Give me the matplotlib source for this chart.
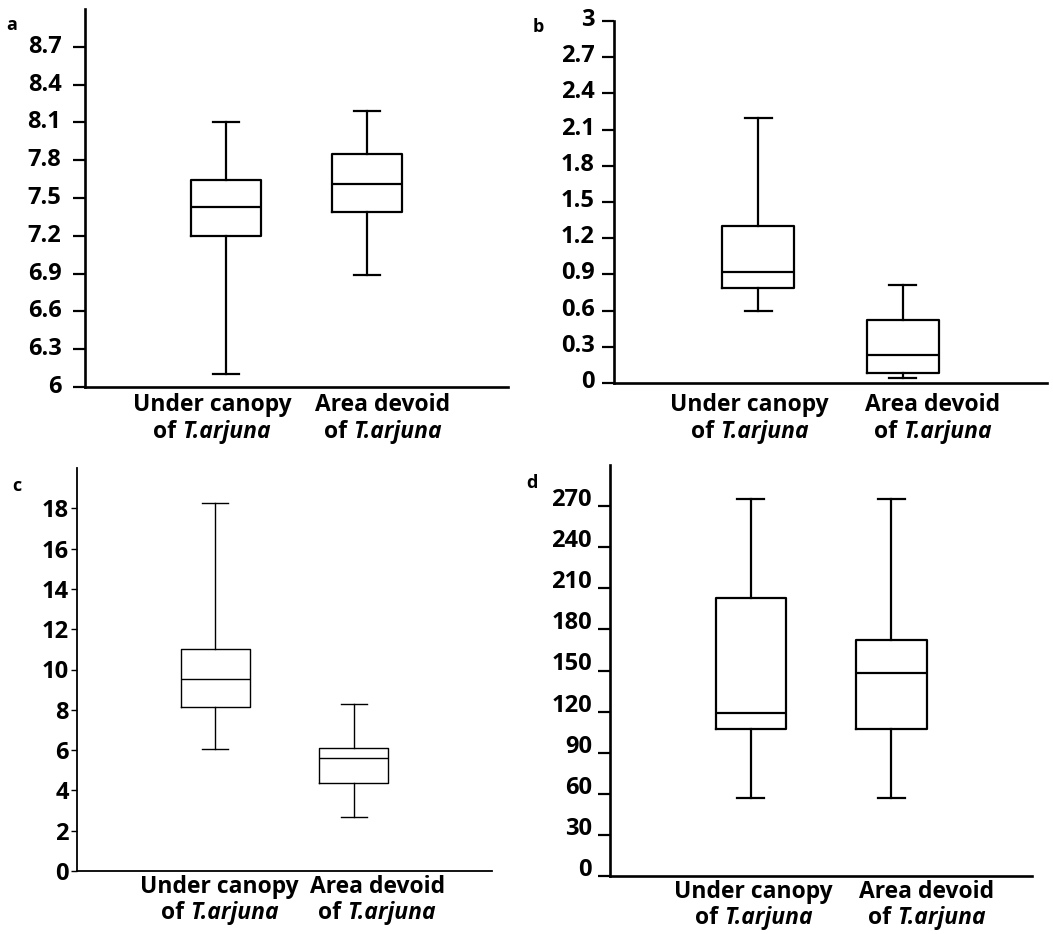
import matplotlib
matplotlib.use("Agg")
import matplotlib.pyplot as plt
import matplotlib.transforms as mtransforms

FONT = 'Open Sans'
plt.rcParams['font.family'] = [FONT, 'DejaVu Sans']
plt.rcParams['font.weight'] = 'bold'

cat_line1 = ["Under canopy", "Area devoid"]
cat_of = "of "
cat_species = "T.arjuna"

# five-number summaries per panel: (whislo, q1, med, q3, whishi)
a_under = (6.10, 7.20, 7.43, 7.64, 8.10)
a_devoid = (6.89, 7.39, 7.61, 7.85, 8.19)
b_under = (0.60, 0.79, 0.92, 1.305, 2.20)
b_devoid = (0.045, 0.08, 0.23, 0.52, 0.81)
c_under = (6.05, 8.13, 9.55, 11.0, 18.25)
c_devoid = (2.68, 4.36, 5.60, 6.10, 8.28)
d_under = (57, 107.5, 119, 203, 275)
d_devoid = (57, 107.5, 148, 172.6, 275)

a_ticks = [6, 6.3, 6.6, 6.9, 7.2, 7.5, 7.8, 8.1, 8.4, 8.7]
a_ticklabels = ["6", "6.3", "6.6", "6.9", "7.2", "7.5", "7.8", "8.1", "8.4", "8.7"]
b_ticks = [0, 0.3, 0.6, 0.9, 1.2, 1.5, 1.8, 2.1, 2.4, 2.7, 3]
b_ticklabels = ["0", "0.3", "0.6", "0.9", "1.2", "1.5", "1.8", "2.1", "2.4", "2.7", "3"]
c_ticks = [0, 2, 4, 6, 8, 10, 12, 14, 16, 18]
c_ticklabels = ["0", "2", "4", "6", "8", "10", "12", "14", "16", "18"]
d_ticks = [0, 30, 60, 90, 120, 150, 180, 210, 240, 270]
d_ticklabels = ["0", "30", "60", "90", "120", "150", "180", "210", "240", "270"]

W, H = 1053, 934
fig = plt.figure(figsize=(W / 100, H / 100), dpi=100)
renderer = fig.canvas.get_renderer()


def make_axes(left, top, right, bottom):
    return fig.add_axes([left / W, 1 - bottom / H, (right - left) / W, (bottom - top) / H])


panels = [
    dict(letter="a", box=(85, 9, 508, 387), ylim=(6, 9.0), data=(a_under, a_devoid),
         ticks=a_ticks, labels=a_ticklabels, lw=1.6, ticklen=9, pad=8, yoff=3,
         letter_xy=(12, 25), label_x=(0.90, 2.11), l1=18, l2=45),
    dict(letter="b", box=(614, 21, 1047, 383), ylim=(0, 3.0), data=(b_under, b_devoid),
         ticks=b_ticks, labels=b_ticklabels, lw=1.6, ticklen=9, pad=5, yoff=4,
         letter_xy=(538, 27), label_x=(0.94, 2.21), l1=22, l2=49),
    dict(letter="c", box=(77, 468, 492, 871), ylim=(0, 20), data=(c_under, c_devoid),
         ticks=c_ticks, labels=c_ticklabels, lw=1.0, ticklen=4, pad=2, yoff=0,
         letter_xy=(17, 486), label_x=(1.03, 2.17), l1=16, l2=42),
    dict(letter="d", box=(610, 465, 1032, 876), ylim=(0, 300), data=(d_under, d_devoid),
         ticks=d_ticks, labels=d_ticklabels, lw=1.6, ticklen=9, pad=4, yoff=9,
         letter_xy=(532, 483), label_x=(1.02, 2.25), l1=16, l2=42),
]

LABEL_FS = 16.5

for p in panels:
    ax = make_axes(*p["box"])
    stats = []
    for s in p["data"]:
        stats.append(dict(whislo=s[0], q1=s[1], med=s[2], q3=s[3], whishi=s[4], fliers=[]))
    lw = p["lw"]
    ax.bxp(stats, positions=[1, 2], widths=0.5, capwidths=0.19, showfliers=False,
           boxprops=dict(color="black", linewidth=lw),
           whiskerprops=dict(color="black", linewidth=lw),
           capprops=dict(color="black", linewidth=lw),
           medianprops=dict(color="black", linewidth=lw))
    ax.set_xlim(0, 3)
    ax.set_ylim(*p["ylim"])
    for side in ("top", "right"):
        ax.spines[side].set_visible(False)
    for side in ("left", "bottom"):
        ax.spines[side].set_linewidth(lw + 0.3)
        ax.spines[side].set_color("black")
    ax.set_xticks([])
    ax.set_yticks(p["ticks"])
    ax.set_yticklabels(p["labels"], fontsize=17, fontweight="bold")
    ax.tick_params(axis="y", length=p["ticklen"], width=lw, pad=p["pad"], colors="black")
    off = mtransforms.ScaledTranslation(0, p["yoff"] / 100, fig.dpi_scale_trans)
    for lab in ax.get_yticklabels():
        lab.set_transform(lab.get_transform() + off)
    for x, line1 in zip(p["label_x"], cat_line1):
        ax.annotate(line1, xy=(x, 0), xycoords=("data", "axes fraction"),
                    xytext=(0, -p["l1"]), textcoords="offset pixels",
                    ha="center", va="center", fontsize=LABEL_FS, fontweight="bold")
        t_of = ax.annotate(cat_of, xy=(x, 0), xycoords=("data", "axes fraction"),
                           xytext=(0, -p["l2"]), textcoords="offset pixels",
                           ha="right", va="center", fontsize=LABEL_FS, fontweight="bold")
        t_sp = ax.annotate(cat_species, xy=(x, 0), xycoords=("data", "axes fraction"),
                           xytext=(0, -p["l2"]), textcoords="offset pixels",
                           ha="left", va="center", fontsize=LABEL_FS, fontweight="bold",
                           style="italic")
        w1 = t_of.get_window_extent(renderer).width
        w2 = t_sp.get_window_extent(renderer).width
        shift = (w1 - w2) / 2
        t_of.xyann = (shift, -p["l2"])
        t_sp.xyann = (shift, -p["l2"])
    lx, ly = p["letter_xy"]
    fig.text(lx / W, 1 - ly / H, p["letter"], ha="center", va="center",
             fontsize=13, fontweight="bold")

fig.savefig("out.png", dpi=100, facecolor="white")
